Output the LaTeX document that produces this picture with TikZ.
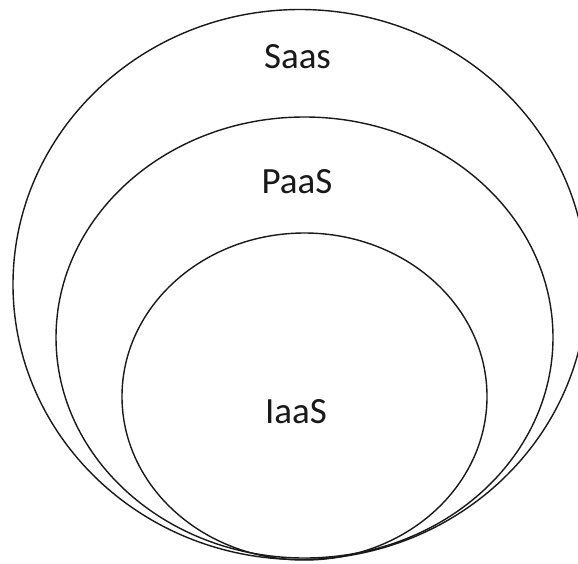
\documentclass[tikz,border=0pt]{standalone}
\usepackage{fontspec}
\setmainfont{Carlito}
\begin{document}
\begin{tikzpicture}[x=1pt,y=-1pt,
  ring/.style={draw=black!90,line width=1.4pt},
  lbl/.style={anchor=base,text=black!90,font=\fontsize{37}{40}\selectfont,inner sep=0pt}]
\useasboundingbox (0,0) rectangle (578,563);
\clip (0,0) rectangle (578,563);
\fill[white] (0,0) rectangle (578,563);
% outer (SaaS)
\draw[ring] (300,284.5) ellipse [x radius=287, y radius=275];
% middle (PaaS)
\draw[ring] (304.5,337.5) ellipse [x radius=248.5, y radius=220.5];
% inner (IaaS)
\draw[ring] (304.5,396.5) ellipse [x radius=182.5, y radius=163.5];
\node[lbl] (saas) at (297.5,68) {Saas};
\node[lbl] (paas) at (297,193) {PaaS};
\node[lbl] (iaas) at (296,423) {IaaS};
\end{tikzpicture}
\end{document}
